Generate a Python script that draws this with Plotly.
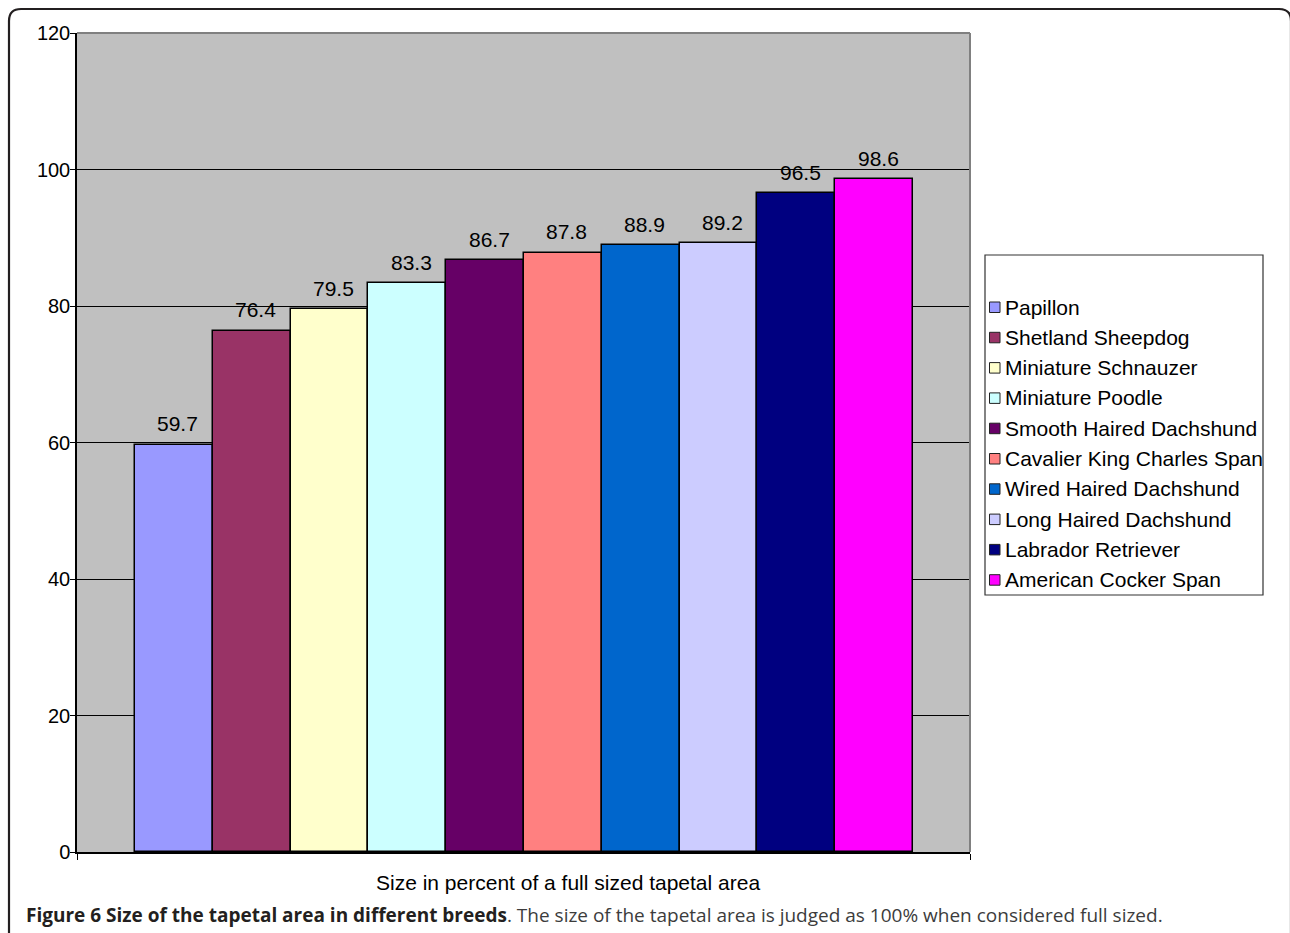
import plotly.graph_objects as go

# Tapetal area size by breed (percent of a full-sized tapetal area)
breeds = [
    "Papillon",
    "Shetland Sheepdog",
    "Miniature Schnauzer",
    "Miniature Poodle",
    "Smooth Haired Dachshund",
    "Cavalier King Charles Span",
    "Wired Haired Dachshund",
    "Long Haired Dachshund",
    "Labrador Retriever",
    "American Cocker Span",
]
sizes = [59.7, 76.4, 79.5, 83.3, 86.7, 87.8, 88.9, 89.2, 96.5, 98.6]
colors = [
    "#9999FF", "#993366", "#FFFFCC", "#CCFFFF", "#660066",
    "#FF8080", "#0066CC", "#CCCCFF", "#000080", "#FF00FF",
]
y_ticks = [0, 20, 40, 60, 80, 100, 120]
x_title = "Size in percent of a full sized tapetal area"
caption_bold = "Figure 6 Size of the tapetal area in different breeds"
caption_rest = ". The size of the tapetal area is judged as 100% when considered full sized."

W, H = 1290, 933
L, R, T, B = 77, 970, 33, 852  # plot area in pixels
PW, PH = R - L, B - T


def px(x):
    return (x - L) / PW


def py(y):
    return (B - y) / PH


FONT = "Arial, Liberation Sans, sans-serif"
xs = list(range(len(breeds)))
x_range = [-1.2455, 10.2325]

fig = go.Figure(
    go.Bar(
        x=xs,
        y=sizes,
        width=1,
        marker=dict(color=colors, line=dict(color="#000000", width=1.5)),
        hoverinfo="skip",
        showlegend=False,
    )
)

annotations = []
# value labels above each bar
for i, v in zip(xs, sizes):
    annotations.append(dict(
        x=i, y=v, xref="x", yref="y", text=f"{v:.1f}", showarrow=False,
        xanchor="center", yanchor="middle", yshift=21, xshift=4,
        font=dict(family=FONT, size=21, color="#000000"),
    ))

# axis title
annotations.append(dict(
    x=px(568), y=py(882), xref="paper", yref="paper", text=x_title,
    showarrow=False, xanchor="center", yanchor="middle",
    font=dict(family=FONT, size=21, color="#000000"),
))

# caption
annotations.append(dict(
    x=px(24), y=py(915), xref="paper", yref="paper",
    text=(f"<b><span style='color:#231f20'>{caption_bold}</span></b>"
          f"<span style='color:#3c3c3c'>{caption_rest}</span>"),
    showarrow=False, xanchor="left", yanchor="middle",
    font=dict(family="Open Sans, sans-serif", size=19, color="#2b2b2b"),
))

shapes = []
# plot-area border on top and right
shapes.append(dict(type="line", xref="paper", yref="paper", x0=0, x1=1, y0=1, y1=1,
                   line=dict(color="#808080", width=2), layer="above"))
shapes.append(dict(type="line", xref="paper", yref="paper", x0=1, x1=1, y0=0, y1=1,
                   line=dict(color="#808080", width=2), layer="above"))

# legend box
LX0, LX1, LY0, LY1 = 985, 1263, 255, 595
shapes.append(dict(type="rect", xref="paper", yref="paper",
                   x0=px(LX0), x1=px(LX1), y0=py(LY1), y1=py(LY0),
                   fillcolor="#FFFFFF", line=dict(color="#333333", width=1.2)))
item_top, item_step = 307, 30.3
for k, (name, c) in enumerate(zip(breeds, colors)):
    yc = item_top + k * item_step
    shapes.append(dict(type="rect", xref="paper", yref="paper",
                       x0=px(989.5), x1=px(1000), y0=py(yc + 5.5), y1=py(yc - 5),
                       fillcolor=c, line=dict(color="#222222", width=1)))
    annotations.append(dict(
        x=px(1003), y=py(yc), xref="paper", yref="paper", text=name,
        showarrow=False, xanchor="left", yanchor="middle",
        font=dict(family=FONT, size=21, color="#000000"),
    ))

# outer rounded frame
def P(x, y):
    return f"{px(x):.6f},{py(y):.6f}"


frame = (f"M {P(9, 940)} L {P(9, 21)} Q {P(9, 9)} {P(21, 9)} "
         f"L {P(1279, 9)} Q {P(1291, 9)} {P(1291, 21)} L {P(1291, 940)}")
shapes.append(dict(type="path", xref="paper", yref="paper", path=frame,
                   line=dict(color="#231f20", width=2.2)))

fig.update_layout(
    width=W, height=H,
    margin=dict(l=L, r=W - R, t=T, b=H - B, pad=0),
    paper_bgcolor="#FFFFFF",
    plot_bgcolor="#C0C0C0",
    bargap=0,
    xaxis=dict(
        range=x_range, showgrid=False, zeroline=False,
        showline=True, linecolor="#000000", linewidth=1.5,
        tickmode="array", tickvals=x_range, ticks="outside", ticklen=6,
        tickcolor="#000000", showticklabels=False, fixedrange=True,
    ),
    yaxis=dict(
        range=[0, 120], tickmode="array", tickvals=y_ticks,
        showgrid=True, gridcolor="#000000", gridwidth=1, zeroline=False,
        showline=True, linecolor="#000000", linewidth=1.5,
        ticks="outside", ticklen=5, tickcolor="#000000",
        tickfont=dict(family=FONT, size=20, color="#000000"),
        ticklabelstandoff=-4,
        fixedrange=True,
    ),
    annotations=annotations,
    shapes=shapes,
)

fig.write_html("out.html")
